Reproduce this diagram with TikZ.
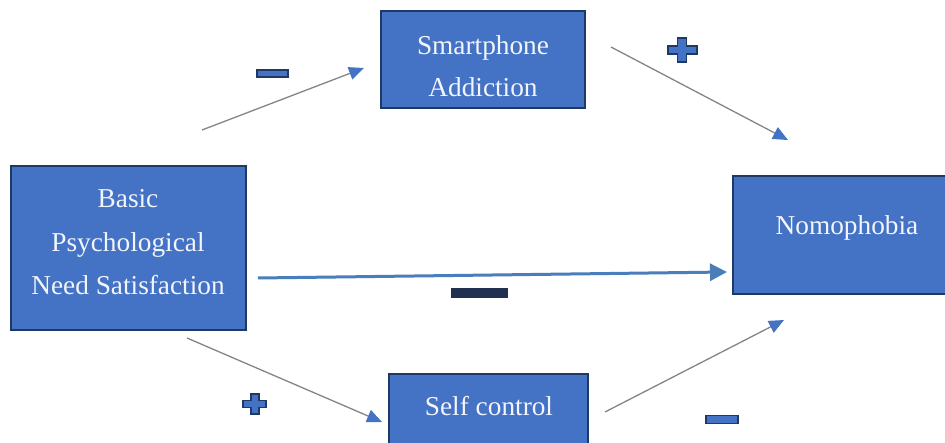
\documentclass[tikz,border=0pt]{standalone}
\usepackage{fontspec}
\setmainfont{Liberation Serif}
\usetikzlibrary{arrows.meta}
\definecolor{boxfill}{HTML}{4472C4}
\definecolor{boxline}{HTML}{1F3864}
\definecolor{thinline}{HTML}{858585}
\definecolor{mainline}{HTML}{4A7EBB}
\definecolor{signdark}{HTML}{1F3050}
\definecolor{txtcol}{HTML}{F2F5FB}
\tikzset{
  boxnode/.style={draw=boxline, fill=boxfill, line width=2pt, inner sep=0pt},
  txt/.style={anchor=base, text=txtcol, inner sep=0pt, font=\fontsize{27.3}{43}\selectfont},
  thinarrow/.style={draw=thinline, line width=1.3pt, -{Triangle[length=15pt, width=13pt, color=boxfill]}},
  mainarrow/.style={draw=mainline, line width=3pt, -{Triangle[length=17pt, width=17pt, color=mainline]}},
  signshape/.style={draw=boxline, fill=boxfill, line width=1.6pt},
}
\begin{document}
\begin{tikzpicture}[x=1pt, y=-1pt]
\clip (0,0) rectangle (945,443);
\fill[white] (0,0) rectangle (945,443);

% boxes
\node[boxnode, minimum width=204pt, minimum height=97pt] (sa) at (483,59.5) {};
\node[boxnode, minimum width=235pt, minimum height=164pt] (bp) at (128.5,248) {};
\node[boxnode, minimum width=230pt, minimum height=118pt] (no) at (848,235.5) {};
\node[boxnode, minimum width=199pt, minimum height=80pt] (sc) at (488.5,414) {};

% texts
\node[txt] (sa1) at (483,55) {Smartphone};
\node[txt] (sa2) at (483,97) {Addiction};
\node[txt] (bp1) at (128,208) {Basic};
\node[txt] (bp2) at (128,252) {Psychological};
\node[txt] (bp3) at (128,295) {Need Satisfaction};
\node[txt] (no1) at (847,235) {Nomophobia};
\node[txt] (sc1) at (489,415) {Self control};

% connector end points
\coordinate (a1s) at (202,130);
\coordinate (a1e) at (364,68);
\coordinate (a2s) at (611,47);
\coordinate (a2e) at (788,140);
\coordinate (a3s) at (258,278);
\coordinate (a3e) at (727,272);
\coordinate (a4s) at (187,338);
\coordinate (a4e) at (382,422);
\coordinate (a5s) at (605,412);
\coordinate (a5e) at (784,320);

\draw[thinarrow] (a1s) -- (a1e);
\draw[thinarrow] (a2s) -- (a2e);
\draw[mainarrow] (a3s) -- (a3e);
\draw[thinarrow] (a4s) -- (a4e);
\draw[thinarrow] (a5s) -- (a5e);

% signs
\draw[signshape] (257,70) rectangle (288,77);
\draw[signshape] (706,415.5) rectangle (738,423.5);
\fill[signdark] (451,288) rectangle (508,298);
% plus near top right
\draw[signshape] (677.5,38) -- (686.5,38) -- (686.5,46) -- (697,46) -- (697,54) -- (686.5,54)
  -- (686.5,62) -- (677.5,62) -- (677.5,54) -- (668,54) -- (668,46) -- (677.5,46) -- cycle;
% plus near bottom left
\draw[signshape] (251,394) -- (259,394) -- (259,400.5) -- (266,400.5) -- (266,407.5) -- (259,407.5)
  -- (259,414) -- (251,414) -- (251,407.5) -- (243,407.5) -- (243,400.5) -- (251,400.5) -- cycle;
\end{tikzpicture}
\end{document}
